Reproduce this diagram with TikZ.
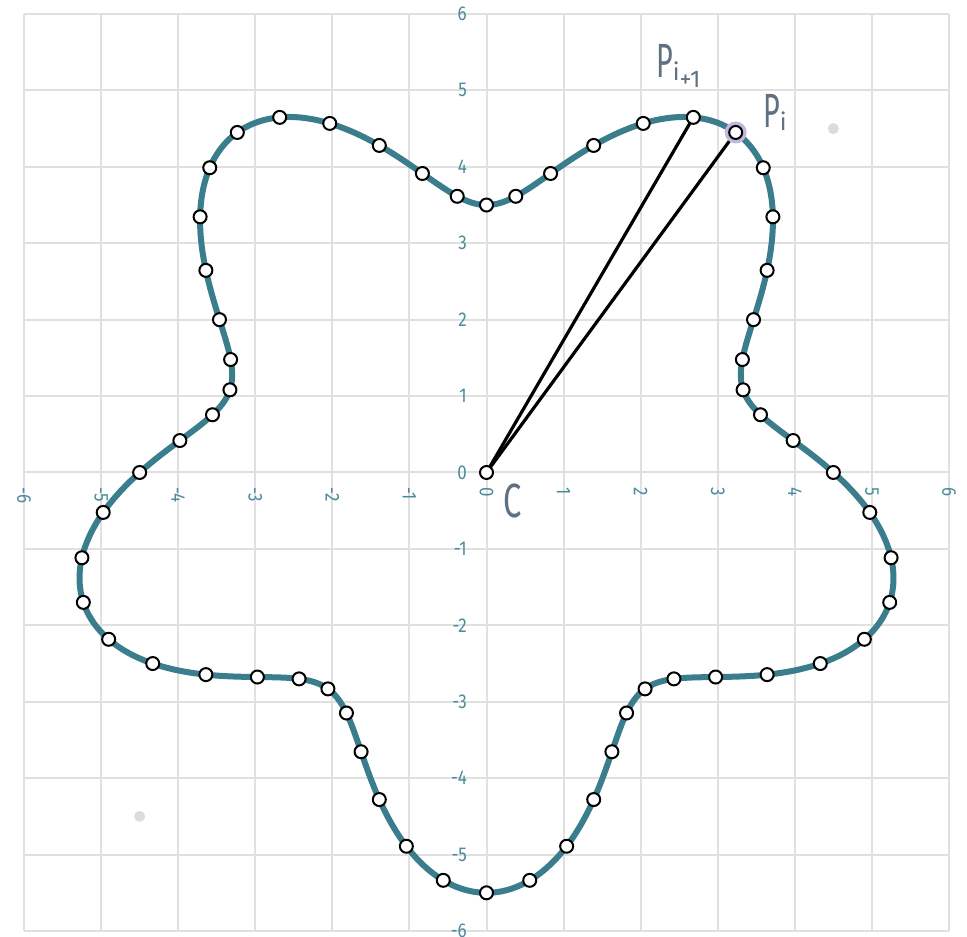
\documentclass[tikz,border=0pt]{standalone}
\usepackage{fontspec}
\setmainfont{Fira Sans}
\definecolor{gridc}{RGB}{224,224,224}
\definecolor{curvec}{RGB}{58,125,140}
\definecolor{tickc}{RGB}{75,140,156}
\definecolor{labelc}{RGB}{95,112,130}
\definecolor{haloc}{RGB}{196,182,222}
\definecolor{dotc}{RGB}{220,220,220}
\newcommand{\tk}[1]{\scalebox{0.85}[1]{#1}}
\newcommand{\sbs}[1]{\raisebox{-3pt}{\fontsize{24}{24}\selectfont #1}}
\newcommand{\sbl}[1]{\raisebox{-10pt}{\fontsize{24}{24}\selectfont #1}}
\begin{document}
\begin{tikzpicture}[x=77.08pt,y=76.42pt,
  gridline/.style={draw=gridc,line width=2pt},
  curveline/.style={draw=curvec,line width=6pt},
  spoke/.style={draw=black,line width=3.2pt},
  marker/.style={circle,draw=black,fill=white,line width=2pt,minimum size=13pt,inner sep=0pt},
  halo/.style={circle,fill=haloc,minimum size=22pt,inner sep=0pt},
  greydot/.style={circle,fill=dotc,minimum size=11pt,inner sep=0pt},
  ytick/.style={text=tickc,font=\fontsize{20}{20}\selectfont,anchor=east,inner sep=0pt},
  xtick/.style={text=tickc,font=\fontsize{20}{20}\selectfont,anchor=west,rotate=-90,inner sep=0pt},
  biglabel/.style={text=labelc,font=\fontsize{48}{48}\selectfont,inner sep=0pt,anchor=base west}]
\useasboundingbox (-6.3117,-6.0783) rectangle (6.2338,6.1829);
\fill[white] (-6.3117,-6.0783) rectangle (6.2338,6.1829);
% grid
\draw[gridline] (-6,-6) grid[xstep=1,ystep=1] (6,6);
% tick labels
\foreach \v in {-6,...,6} {
  \node[ytick] (ty\v) at ([xshift=-19.5pt]0,\v) {\tk{\v}};
  \node[xtick] (tx\v) at ([yshift=-14.5pt]\v,0) {\tk{\v}};
}
% grey dots
\node[greydot] (g1) at (4.5,4.5) {};
\node[greydot] (g2) at (-4.5,-4.5) {};
% curve
\draw[curveline] plot[variable=\t,domain=0:360,samples=361,smooth]
  ({(4.5-sin(5*\t))*cos(\t)},{(4.5-sin(5*\t))*sin(\t)}) -- cycle;
% sample coordinates
\coordinate (c) at (0,0);
\foreach \k in {0,...,59} {
  \pgfmathsetmacro\ang{6*\k}
  \pgfmathsetmacro\rad{4.5-sin(5*\ang)}
  \coordinate (pt\k) at ({\rad*cos(\ang)},{\rad*sin(\ang)});
}
% spokes
\draw[spoke] (c) -- (pt9);
\draw[spoke] (c) -- (pt10);
% halo
\node[halo] (h9) at (pt9) {};
% markers
\node[marker] (mc) at (c) {};
\foreach \k in {0,...,59} {
  \node[marker] (m\k) at (pt\k) {};
}
% labels
\node[biglabel] (lc) at ([xshift=16.5pt,yshift=-45pt]c) {\scalebox{0.68}[1]{C}};
\node[biglabel] (lpi) at ([xshift=27.3pt,yshift=5pt]pt9) {\scalebox{0.6}[1]{P}\sbs{i}};
\node[biglabel] (lpi1) at ([xshift=-37.3pt,yshift=40pt]pt10) {\scalebox{0.6}[1]{P}\sbs{i}\sbl{+1}};
\end{tikzpicture}
\end{document}
